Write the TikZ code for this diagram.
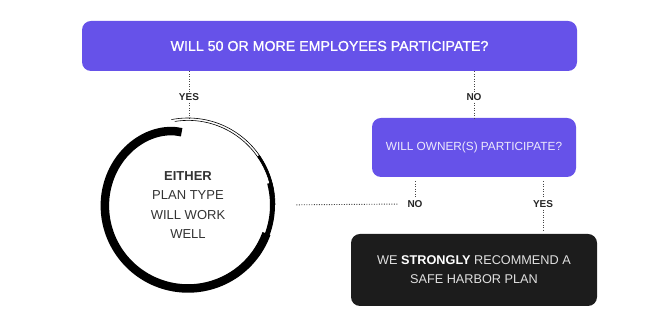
\documentclass[tikz,border=0pt]{standalone}
\usepackage{fontspec}
\setmainfont{Liberation Sans}
\definecolor{qpurple}{HTML}{6652E9}
\definecolor{recblack}{HTML}{1C1C1C}
\definecolor{dotgray}{HTML}{444444}
\definecolor{inktext}{HTML}{333333}
\tikzset{
  question/.style={rounded corners=9pt, fill=qpurple, align=center, inner sep=0pt},
  answer/.style={font=\fontsize{10}{12}\selectfont\bfseries, text=black!85, inner sep=2pt},
  wire/.style={draw=dotgray, line width=0.9pt, dash pattern=on 0.9pt off 1.6pt},
}
\begin{document}
\begin{tikzpicture}[x=1pt,y=1pt]
  \useasboundingbox (0,0) rectangle (659,328);
  % first question
  \node[question, minimum width=495, minimum height=50, text=white,
    font=\fontsize{14.2}{17}\selectfont\addfontfeature{FakeBold=1.2}] (q1) at (329.5,282)
    {WILL 50 OR MORE EMPLOYEES PARTICIPATE?};
  % yes branch
  \node[answer] (yes1) at (189,231) {YES};
  \node[circle, minimum size=174, align=center, text=inktext,
    font=\fontsize{13}{19.5}\selectfont] (either) at (188,123)
    {\textbf{EITHER}\\PLAN TYPE\\WILL WORK\\WELL};
  \draw[wire] (q1.south -| yes1) -- (yes1.north);
  \draw[wire] (yes1.south) -- (yes1.south |- either.north);
  % brush circle round the answer
  \begin{scope}[shift={(either.center)}]
    \draw[line width=8.5, line cap=butt] plot[smooth, domain=95:340, samples=50]
      (\x:{83.5-10.5*exp(-(\x-95)/25)});
    \draw[line width=5] (330:84.5) arc[start angle=330, end angle=375, radius=84.5];
    \draw[line width=2.5] (370:85.8) arc[start angle=370, end angle=395, radius=85.8];
    \draw[line width=0.6] (0:87) arc[start angle=0, end angle=101, radius=87];
    \draw[line width=0.6] (10:84.6) arc[start angle=10, end angle=99, radius=84.6];
  \end{scope}
  % no branch
  \node[answer] (no1) at (474,231) {NO};
  \node[question, minimum width=204, minimum height=59, text=white!88!qpurple,
    font=\fontsize{11.8}{15}\selectfont] (q2) at (474,180.5)
    {\raisebox{-1.5pt}{WILL OWNER(S) PARTICIPATE?}};
  \draw[wire] (q1.south -| no1) -- (no1.north);
  \draw[wire] (no1.south) -- (q2.north);
  % second question answers
  \node[answer] (no2) at (415,124) {NO};
  \node[answer] (yes2) at (543,124) {YES};
  \draw[wire, shorten <=4] (q2.south -| no2) -- (no2.north);
  \draw[wire, shorten <=4] (q2.south -| yes2) -- (yes2.north);
  \draw[wire, shorten <=8, shorten >=21] (no2.west) -- (either.east);
  % recommendation
  \node[fill=recblack, rounded corners=9pt, minimum width=246, minimum height=72,
    align=center, text=white!88!black, font=\fontsize{12.7}{19}\selectfont] (rec) at (474,58)
    {WE \textbf{\color{white}STRONGLY} RECOMMEND A\\SAFE HARBOR PLAN};
  \draw[wire, shorten >=2] (yes2.south) -- (rec.north -| yes2);
\end{tikzpicture}
\end{document}
